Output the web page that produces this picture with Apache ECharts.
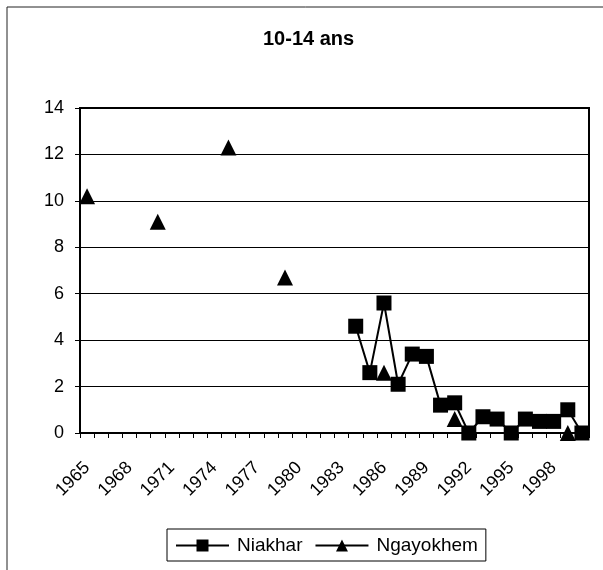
<!DOCTYPE html>
<html>
<head>
<meta charset="utf-8">
<script src="https://cdn.jsdelivr.net/npm/echarts@6/dist/echarts.min.js"></script>
<style>
    html, body { margin: 0; padding: 0; background: #fff; }
    #chart { width: 603px; height: 570px; }
</style>
</head>
<body>
<div id="chart"></div>
<script>
// années (axe des catégories)
var years = ['1965','1966','1967','1968','1969','1970','1971','1972','1973','1974','1975','1976',
             '1977','1978','1979','1980','1981','1982','1983','1984','1985','1986','1987','1988',
             '1989','1990','1991','1992','1993','1994','1995','1996','1997','1998','1999','2000'];
var niakhar = [null,null,null,null,null,null,null,null,null,null,null,null,
               null,null,null,null,null,null,null,4.6,2.6,5.6,2.1,3.4,
               3.3,1.2,1.3,0,0.7,0.6,0,0.6,0.5,0.5,1.0,0];
var ngayokhem = [10.2,null,null,null,null,9.1,null,null,null,null,12.3,null,
                 null,null,6.7,null,null,null,null,null,null,2.6,null,null,
                 null,null,0.6,null,null,null,null,null,null,null,0,null];
var yTicks = { min: 0, max: 14, step: 2 };

var font = 'Arial, "Liberation Sans", sans-serif';
var chart = echarts.init(document.getElementById('chart'));

var option = {
    backgroundColor: '#fff',
    animation: false,
    title: {
        text: '10-14 ans',
        left: 258,
        top: 24,
        textStyle: { fontFamily: font, fontSize: 20, fontWeight: 'bold', color: '#000' }
    },
    graphic: [{
        type: 'rect',
        shape: { x: 7, y: 7, width: 700, height: 700 },
        style: { fill: 'none', stroke: '#222', lineWidth: 1 },
        silent: true
    }],
    legend: {
        left: 167,
        top: 529,
        padding: [7, 8, 6, 8],
        itemWidth: 53,
        itemHeight: 15,
        itemGap: 12,
        borderColor: '#000',
        borderWidth: 1,
        textStyle: { fontFamily: font, fontSize: 19, color: '#000', padding: [0, 0, 0, 3] },
        data: ['Niakhar', 'Ngayokhem']
    },
    grid: {
        left: 80,
        top: 108,
        width: 509,
        height: 325,
        show: true,
        borderColor: '#000',
        borderWidth: 2,
        containLabel: false
    },
    xAxis: {
        type: 'category',
        data: years,
        boundaryGap: true,
        axisLine: { lineStyle: { color: '#000', width: 2 } },
        axisTick: { show: true, interval: 0, length: 5, lineStyle: { color: '#000' } },
        axisLabel: {
            interval: 2,
            rotate: 45,
            margin: 32,
            fontFamily: font,
            fontSize: 18,
            color: '#000'
        },
        splitLine: { show: false }
    },
    yAxis: {
        type: 'value',
        min: yTicks.min,
        max: yTicks.max,
        interval: yTicks.step,
        axisLine: { show: true, lineStyle: { color: '#000', width: 2 } },
        axisTick: { show: true, length: 5, lineStyle: { color: '#000' } },
        axisLabel: { margin: 16, fontFamily: font, fontSize: 18, color: '#000' },
        splitLine: { show: true, lineStyle: { color: '#000', width: 1 } }
    },
    series: [
        {
            name: 'Niakhar',
            type: 'line',
            data: niakhar,
            symbol: 'rect',
            symbolSize: 15,
            showAllSymbol: true,
            connectNulls: false,
            itemStyle: { color: '#000' },
            lineStyle: { color: '#000', width: 2 }
        },
        {
            name: 'Ngayokhem',
            type: 'line',
            data: ngayokhem,
            symbol: 'triangle',
            symbolSize: 16,
            showAllSymbol: true,
            connectNulls: false,
            itemStyle: { color: '#000' },
            lineStyle: { color: '#000', width: 2 }
        }
    ]
};
chart.setOption(option);
</script>
</body>
</html>
